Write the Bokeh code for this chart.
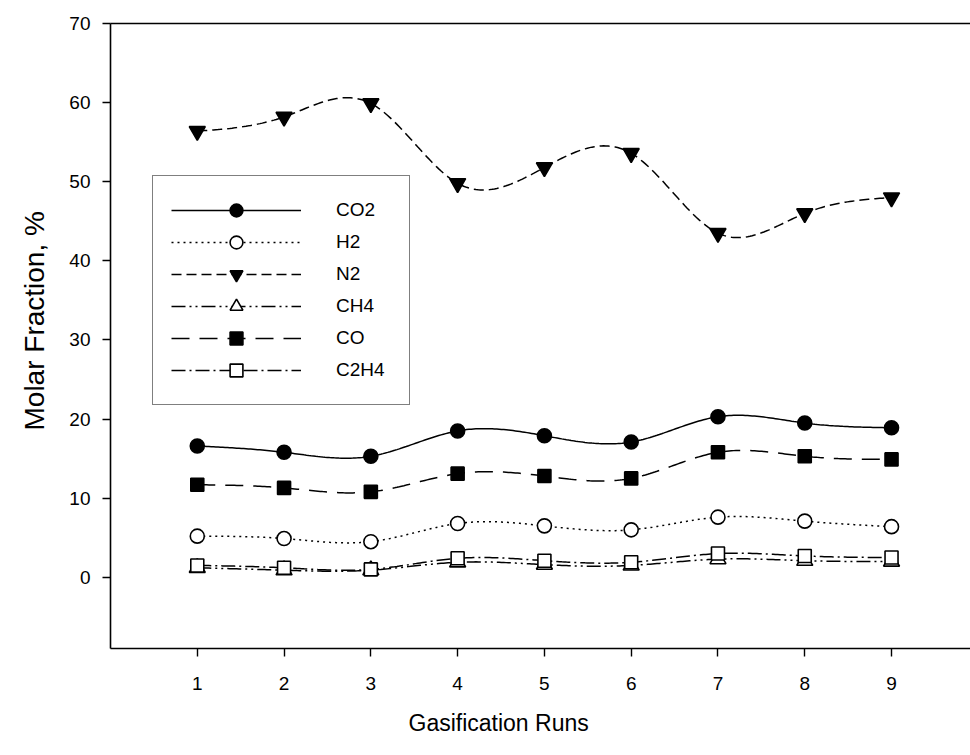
import numpy as np
from bokeh.plotting import figure
from bokeh.models import Range1d, FixedTicker, LinearAxis, Legend, LegendItem, Title
from bokeh.embed import file_html
from bokeh.resources import INLINE

runs = [1, 2, 3, 4, 5, 6, 7, 8, 9]
co2 = [16.6, 15.8, 15.3, 18.5, 17.9, 17.1, 20.3, 19.5, 18.9]
h2 = [5.2, 4.9, 4.5, 6.8, 6.5, 6.0, 7.6, 7.1, 6.4]
n2 = [56.4, 58.2, 59.9, 49.8, 51.8, 53.6, 43.5, 46.0, 48.0]
ch4 = [1.2, 0.9, 0.9, 1.9, 1.6, 1.5, 2.3, 2.1, 2.0]
co = [11.7, 11.3, 10.8, 13.1, 12.8, 12.5, 15.8, 15.3, 14.9]
c2h4 = [1.5, 1.2, 1.0, 2.4, 2.1, 1.9, 3.0, 2.7, 2.5]

y_ticks = [0, 10, 20, 30, 40, 50, 60, 70]
x_ticks = runs
x_title = "Gasification Runs"
y_title = "Molar Fraction, %"

FONT = "Liberation Sans"


def natural_spline(x, y, n=300):
    x = np.asarray(x, float)
    y = np.asarray(y, float)
    m = len(x)
    h = np.diff(x)
    A = np.zeros((m, m))
    b = np.zeros(m)
    A[0, 0] = 1
    A[-1, -1] = 1
    for i in range(1, m - 1):
        A[i, i - 1] = h[i - 1]
        A[i, i] = 2 * (h[i - 1] + h[i])
        A[i, i + 1] = h[i]
        b[i] = 3 * ((y[i + 1] - y[i]) / h[i] - (y[i] - y[i - 1]) / h[i - 1])
    c = np.linalg.solve(A, b)
    bb = np.zeros(m - 1)
    d = np.zeros(m - 1)
    for i in range(m - 1):
        bb[i] = (y[i + 1] - y[i]) / h[i] - h[i] * (2 * c[i] + c[i + 1]) / 3
        d[i] = (c[i + 1] - c[i]) / (3 * h[i])
    xs = np.linspace(x[0], x[-1], n)
    idx = np.clip(np.searchsorted(x, xs) - 1, 0, m - 2)
    dx = xs - x[idx]
    ys = y[idx] + bb[idx] * dx + c[idx] * dx ** 2 + d[idx] * dx ** 3
    return xs, ys


p = figure(width=970, height=755, output_backend="svg", toolbar_location=None,
           x_range=Range1d(0, 9.91), y_range=Range1d(-9, 70),
           min_border_left=110, min_border_right=0, min_border_top=23,
           min_border_bottom=107)
p.outline_line_color = None
p.grid.visible = False
p.background_fill_color = "white"
p.border_fill_color = "white"

series = [
    ("CO2", co2, "circle", "black", "solid"),
    ("H2", h2, "circle", "white", "2 4"),
    ("N2", n2, "inverted_triangle", "black", "10 5"),
    ("CH4", ch4, "triangle", "white", "14 4 2 4 2 4"),
    ("CO", co, "square", "black", "18 10"),
    ("C2H4", c2h4, "square", "white", "14 4 2 4"),
]

items = []
for name, vals, marker, fill, dash in series:
    xs, ys = natural_spline(runs, vals)
    ln = p.line(xs, ys, line_color="black", line_width=1.5, line_dash=dash)
    sz = 14 if marker != "square" else 13
    if "triangle" in marker:
        sz = 16
    sc = p.scatter(runs, vals, marker=marker, size=sz, fill_color=fill,
                   line_color="black", line_width=1.6)
    items.append(LegendItem(label=name, renderers=[ln, sc]))

legend = Legend(items=items, location=(42, 243), padding=18, margin=0,
                glyph_width=130, glyph_height=32, spacing=0, label_standoff=35,
                label_width=55, label_text_font=FONT, label_text_font_size="19px",
                label_text_color="black", border_line_color="black",
                border_line_width=1.5, background_fill_alpha=1.0)
p.add_layout(legend, "center")

for ax in (p.xaxis[0], p.yaxis[0]):
    ax.axis_line_width = 1.6
    ax.axis_line_color = "black"
    ax.major_tick_line_width = 1.4
    ax.major_tick_line_color = "black"
    ax.major_tick_in = 0
    ax.major_tick_out = 8
    ax.minor_tick_line_color = None
    ax.major_label_text_font = FONT
    ax.major_label_text_font_size = "19px"
    ax.major_label_text_color = "black"

p.xaxis.ticker = FixedTicker(ticks=x_ticks)
p.yaxis.ticker = FixedTicker(ticks=y_ticks)
p.xaxis.major_label_standoff = 20
p.yaxis.major_label_standoff = 12

xt = Title(text=x_title, align="left", offset=298, standoff=31,
           text_font=FONT, text_font_size="23px", text_font_style="normal",
           text_color="black")
yt = Title(text=y_title, align="left", offset=218, standoff=33,
           text_font=FONT, text_font_size="28px", text_font_style="normal",
           text_color="black")
p.add_layout(xt, "below")
p.add_layout(yt, "left")

top = LinearAxis(ticker=FixedTicker(ticks=[]), major_label_text_font_size="0px",
                 major_tick_out=0, major_tick_in=0, minor_tick_out=0,
                 minor_tick_in=0, axis_line_width=1.6, axis_line_color="black")
p.add_layout(top, "above")

open("out.html", "w").write(file_html(p, INLINE))
